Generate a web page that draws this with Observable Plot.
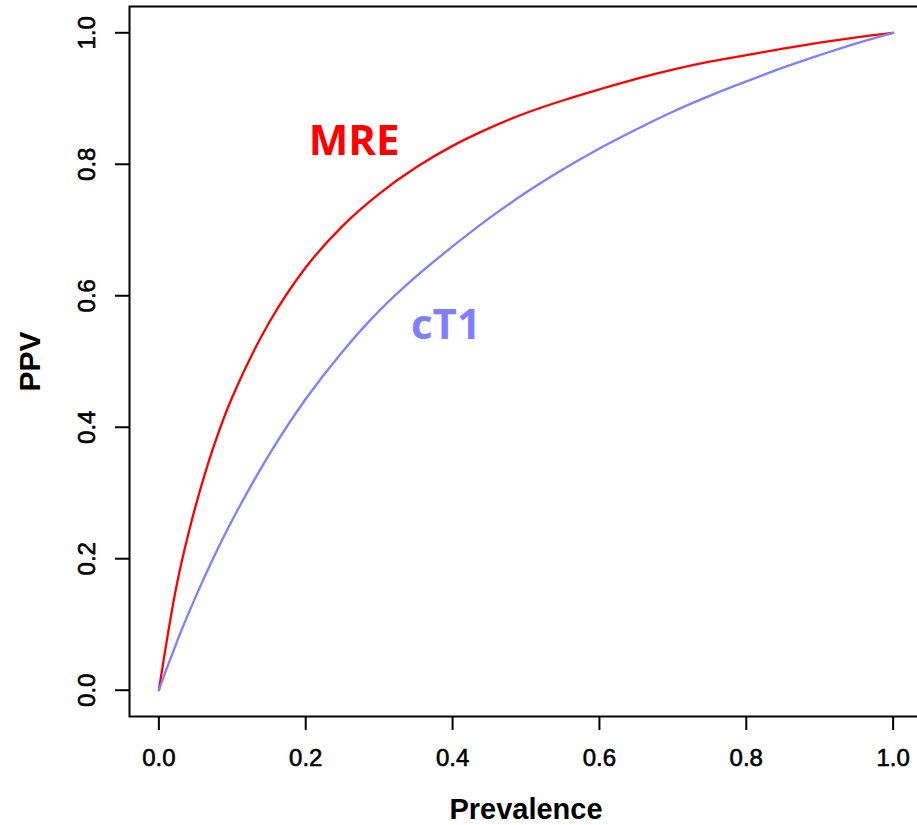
<!DOCTYPE html>
<html>
<head>
<meta charset="utf-8">
<script src="https://cdn.jsdelivr.net/npm/d3@7"></script>
<script src="https://cdn.jsdelivr.net/npm/@observablehq/plot@0.6"></script>
<style>
  html, body { margin: 0; padding: 0; background: #fff; overflow: hidden; }
  #chart svg { display: block; }
</style>
</head>
<body>
<div id="chart"></div>
<script>
const prevalence = [0, 0.01, 0.02, 0.03, 0.05, 0.075, 0.1, 0.15, 0.2, 0.25, 0.3, 0.35, 0.4,
  0.45, 0.5, 0.55, 0.6, 0.65, 0.7, 0.75, 0.8, 0.85, 0.9, 0.95, 1.0];
// PPV of MRE (red curve)
const ppvMRE = [0, 0.070, 0.135, 0.190, 0.280, 0.372, 0.446, 0.559, 0.643, 0.706, 0.755, 0.795, 0.828,
  0.855, 0.878, 0.897, 0.914, 0.930, 0.944, 0.956, 0.966, 0.976, 0.985, 0.993, 1.0];
// PPV of cT1 (blue curve)
const ppvCT1 = [0, 0.031, 0.060, 0.089, 0.142, 0.203, 0.259, 0.358, 0.443, 0.515, 0.577, 0.629, 0.675,
  0.718, 0.757, 0.792, 0.824, 0.853, 0.880, 0.904, 0.926, 0.947, 0.966, 0.984, 1.0];

const seriesNames = ["MRE", "cT1"];
const seriesColors = ["#ff0000", "#7f7fff"];
const labelX = [0.266, 0.391];
const labelY = [0.814, 0.534];

const xTicks = [0, 0.2, 0.4, 0.6, 0.8, 1.0];
const yTicks = [0, 0.2, 0.4, 0.6, 0.8, 1.0];
const xLabel = "Prevalence";
const yLabel = "PPV";

const rows = [];
prevalence.forEach((p, i) => {
  rows.push({series: "MRE", p, ppv: ppvMRE[i]});
  rows.push({series: "cT1", p, ppv: ppvCT1[i]});
});
const labels = seriesNames.map((s, i) => ({series: s, x: labelX[i], y: labelY[i]}));
const fmt = d => d.toFixed(1);

const chart = Plot.plot({
  width: 917,
  height: 825,
  marginLeft: 129,
  marginRight: -5,
  marginTop: 6,
  marginBottom: 109,
  style: {fontFamily: "'Liberation Sans', Arial, sans-serif", background: "#fff", color: "#000", overflow: "hidden"},
  x: {domain: [-0.04, 1.04]},
  y: {domain: [-0.04, 1.04]},
  color: {domain: seriesNames, range: seriesColors},
  marks: [
    Plot.line(rows, {x: "p", y: "ppv", z: "series", stroke: "series", strokeWidth: 2.3, curve: "catmull-rom"}),
    Plot.text(labels, {x: "x", y: "y", text: "series", fill: "series", fontSize: 42, fontWeight: "bold",
      fontFamily: "'Open Sans', sans-serif", textAnchor: "middle", lineAnchor: "bottom"}),
    Plot.frame({stroke: "#000", strokeWidth: 2}),
    Plot.axisX({ticks: xTicks, tickFormat: fmt, tickSize: 14, tickPadding: 18, fontSize: 24,
      label: null, stroke: "#000", strokeWidth: 2, textStroke: "#000", textStrokeWidth: 0.6}),
    Plot.axisY({ticks: yTicks, tickFormat: () => "", tickSize: 14, label: null, stroke: "#000", strokeWidth: 2}),
    Plot.text(yTicks, {y: d => d, text: fmt, frameAnchor: "left", dx: -42, rotate: -90,
      textAnchor: "middle", lineAnchor: "middle", fontSize: 24, fill: "#000", stroke: "#000", strokeWidth: 0.6}),
    Plot.text([xLabel], {text: d => d, frameAnchor: "bottom", dy: 102, lineAnchor: "bottom",
      fontSize: 29, fontWeight: "bold", fill: "#000"}),
    Plot.text([yLabel], {text: d => d, frameAnchor: "left", dx: -99, rotate: -90,
      textAnchor: "middle", lineAnchor: "middle", fontSize: 30, fontWeight: "bold", fill: "#000"})
  ]
});
document.getElementById("chart").appendChild(chart);
</script>
</body>
</html>
